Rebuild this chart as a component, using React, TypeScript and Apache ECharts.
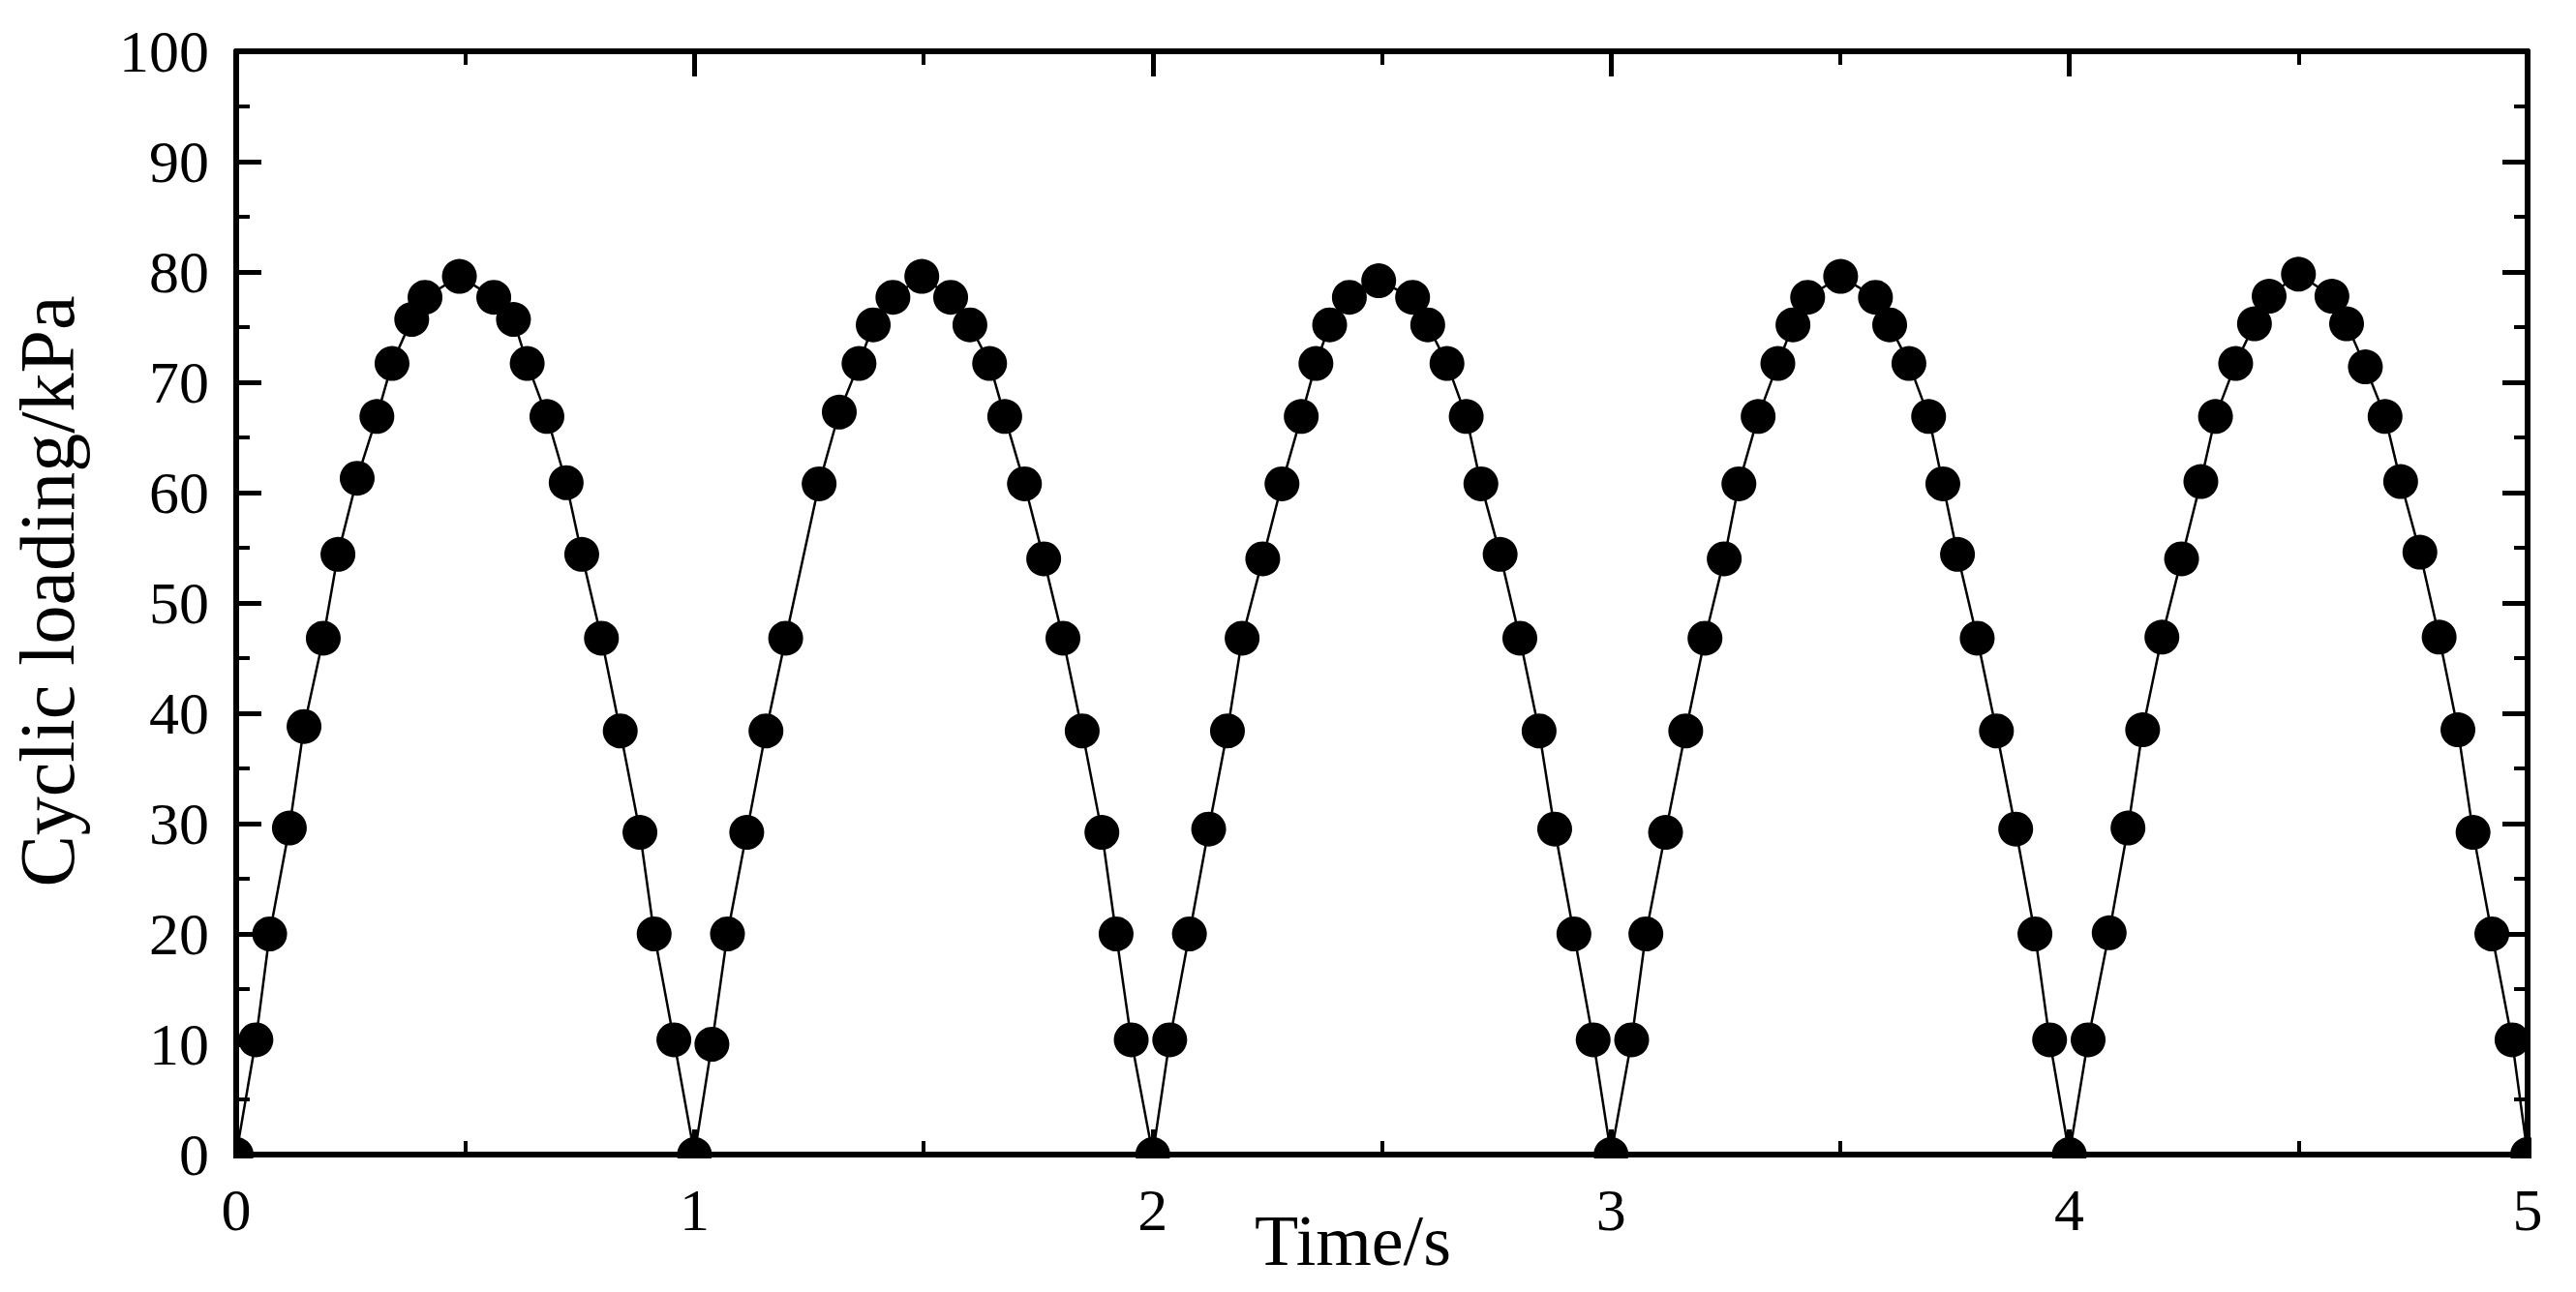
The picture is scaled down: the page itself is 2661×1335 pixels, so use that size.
import React, { useEffect, useRef } from "react";
import * as echarts from "echarts";

// Time (s) of each measured point
const time = [
  0, 0.043, 0.073, 0.116, 0.148, 0.19, 0.222, 0.264, 0.307, 0.34, 0.383, 0.412, 0.487,
  0.562, 0.605, 0.635, 0.678, 0.72, 0.754, 0.797, 0.838, 0.881, 0.912, 0.955, 1.0,
  1.038, 1.072, 1.114, 1.156, 1.199, 1.272, 1.316, 1.359, 1.39, 1.433, 1.496,
  1.559, 1.601, 1.644, 1.677, 1.72, 1.762, 1.804, 1.846, 1.889, 1.92, 1.953, 2.0,
  2.037, 2.08, 2.122, 2.163, 2.195, 2.24, 2.282, 2.324, 2.356, 2.386, 2.429, 2.493,
  2.567, 2.6, 2.642, 2.684, 2.716, 2.758, 2.801, 2.843, 2.877, 2.919, 2.961, 3.0,
  3.045, 3.076, 3.119, 3.163, 3.205, 3.247, 3.279, 3.321, 3.364, 3.397, 3.429, 3.501,
  3.577, 3.608, 3.65, 3.693, 3.724, 3.756, 3.799, 3.841, 3.883, 3.925, 3.957, 4.0,
  4.041, 4.087, 4.128, 4.16, 4.202, 4.245, 4.287, 4.319, 4.363, 4.404, 4.436, 4.5,
  4.573, 4.605, 4.646, 4.689, 4.723, 4.765, 4.807, 4.848, 4.881, 4.922, 4.966, 5.0,
];

// Cyclic loading (kPa) at each point
const load = [
  0, 10.4, 20.0, 29.6, 38.8, 46.8, 54.4, 61.3, 66.9, 71.7, 75.7, 77.7, 79.6,
  77.7, 75.7, 71.7, 66.9, 60.9, 54.4, 46.8, 38.4, 29.2, 20.0, 10.4, 0,
  10.0, 20.0, 29.2, 38.4, 46.8, 60.8, 67.3, 71.7, 75.2, 77.7, 79.6,
  77.7, 75.2, 71.7, 66.9, 60.8, 54.0, 46.8, 38.4, 29.2, 20.0, 10.4, 0,
  10.4, 20.0, 29.5, 38.4, 46.8, 54.0, 60.8, 66.9, 71.7, 75.2, 77.7, 79.2,
  77.7, 75.2, 71.7, 66.9, 60.8, 54.4, 46.8, 38.4, 29.5, 20.0, 10.4, 0,
  10.4, 20.0, 29.2, 38.4, 46.8, 54.0, 60.8, 66.9, 71.7, 75.2, 77.7, 79.6,
  77.7, 75.2, 71.7, 66.9, 60.8, 54.4, 46.8, 38.4, 29.5, 20.0, 10.4, 0,
  10.4, 20.1, 29.6, 38.5, 46.9, 54.0, 61.0, 66.9, 71.7, 75.3, 77.8, 79.8,
  77.8, 75.3, 71.4, 66.9, 61.0, 54.6, 46.9, 38.5, 29.2, 20.0, 10.4, 0,
];

const xTitle = "Time/s";
const yTitle = "Cyclic loading/kPa";

const FONT = "'Liberation Serif', 'Times New Roman', serif";

export default function App() {
  const ref = useRef<HTMLDivElement>(null);

  useEffect(() => {
    if (!ref.current) return;
    const chart = echarts.init(ref.current, null, { renderer: "svg" });
    const W = 2661;
    const H = 1335;
    const gLeft = 244, gRight = 50, gTop = 53, gBottom = 142;

    const tickCommon = {
      axisLine: { show: true, onZero: false, lineStyle: { color: "#000", width: 6 } },
      axisTick: { show: true, inside: true, length: 26, lineStyle: { color: "#000", width: 5 } },
      minorTick: { show: true, splitNumber: 2, length: 14, lineStyle: { color: "#000", width: 4 } },
      splitLine: { show: false },
      minorSplitLine: { show: false },
    };

    const data = time.map((t, i) => [t, load[i]]);

    chart.setOption({
      animation: false,
      backgroundColor: "#fff",
      grid: {
        left: gLeft,
        right: gRight,
        top: gTop,
        bottom: gBottom,
        containLabel: false,
        outerBoundsMode: "none",
      },
      xAxis: [
        {
          type: "value",
          position: "bottom",
          min: 0,
          max: 5,
          interval: 1,
          ...tickCommon,
          axisLabel: { show: true, margin: 26, color: "#000", fontFamily: FONT, fontSize: 62 },
          name: xTitle,
          nameLocation: "middle",
          nameGap: 52,
          nameMoveOverlap: false,
          nameTextStyle: { color: "#000", fontFamily: FONT, fontSize: 74, padding: [0, 60, 0, 0] },
        },
        {
          type: "value",
          position: "top",
          min: 0,
          max: 5,
          interval: 1,
          ...tickCommon,
          axisLabel: { show: false },
        },
      ],
      yAxis: [
        {
          type: "value",
          position: "left",
          min: 0,
          max: 100,
          interval: 10,
          ...tickCommon,
          axisLabel: { show: true, margin: 28, color: "#000", fontFamily: FONT, fontSize: 62 },
          name: yTitle,
          nameLocation: "middle",
          nameRotate: 90,
          nameGap: 155,
          nameMoveOverlap: false,
          nameTextStyle: { color: "#000", fontFamily: FONT, fontSize: 80, padding: [0, 0, 0, 24] },
        },
        {
          type: "value",
          position: "right",
          min: 0,
          max: 100,
          interval: 10,
          ...tickCommon,
          axisLabel: { show: false },
        },
      ],
      series: [
        {
          type: "line",
          data,
          symbol: "circle",
          symbolSize: 36,
          showSymbol: true,
          showAllSymbol: true,
          itemStyle: { color: "#000" },
          lineStyle: { color: "#000", width: 2.5 },
          clip: true,
          z: 2,
        },
      ],
      graphic: [
        // white masks that trim markers spilling outside the frame
        { type: "rect", z: 100, silent: true, shape: { x: gLeft - 22, y: H - gBottom + 4, width: W - gLeft - gRight + 48, height: 17 }, style: { fill: "#fff" } },
        { type: "rect", z: 100, silent: true, shape: { x: gLeft - 22, y: 0, width: 19, height: H - gBottom + 21 }, style: { fill: "#fff" } },
        { type: "rect", z: 100, silent: true, shape: { x: W - gRight + 4, y: 0, width: 22, height: H - gBottom + 21 }, style: { fill: "#fff" } },
      ],
    });

    return () => chart.dispose();
  }, []);

  return (
    <div
      ref={ref}
      style={{ position: "absolute", left: 0, top: 0, width: 2661, height: 1335, background: "#fff" }}
    />
  );
}
